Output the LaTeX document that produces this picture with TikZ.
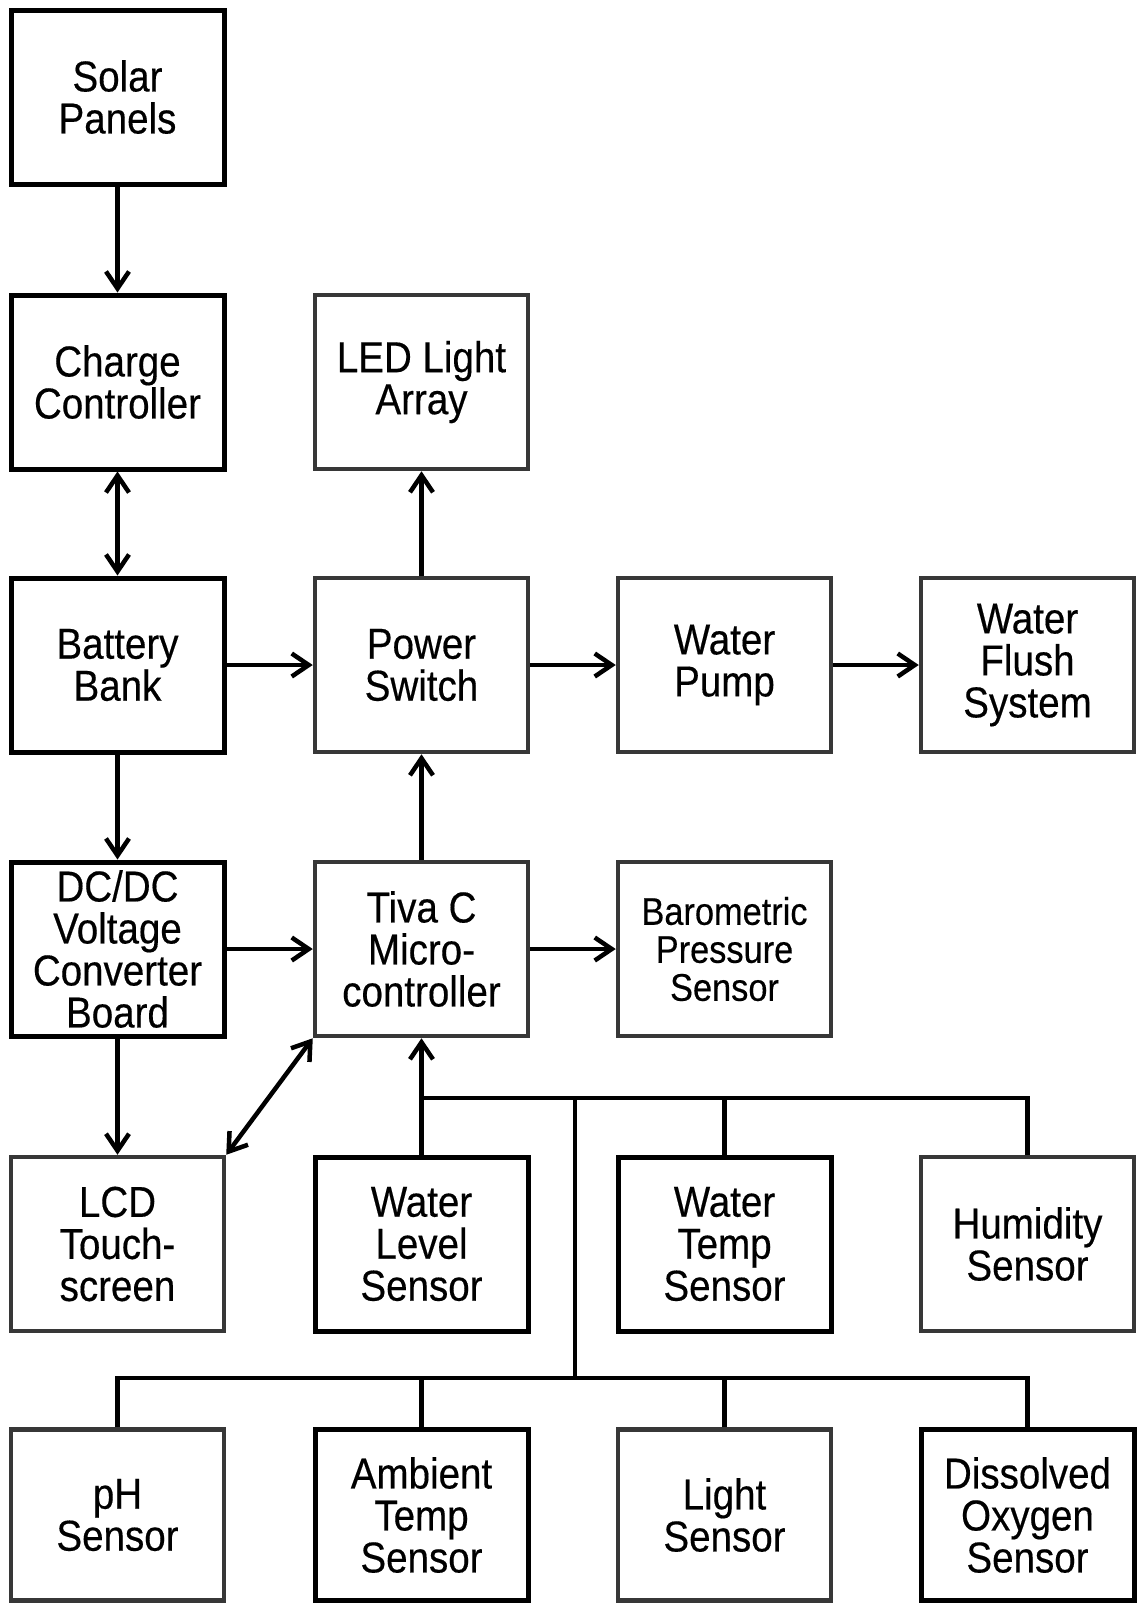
\documentclass[tikz,border=0pt]{standalone}
\usepackage{fontspec}
\setmainfont{Liberation Sans}[FakeStretch=0.89,FakeBold=0.35]
\usetikzlibrary{arrows.meta}
\definecolor{boxgrey}{RGB}{55,55,55}
\begin{document}
\begin{tikzpicture}[x=1pt,y=-1pt,
  box/.style={draw, fill=white, minimum width=213pt, minimum height=174pt, inner sep=0pt, align=center, font=\fontsize{43.3}{42}\selectfont},
  blk/.style={box, line width=5pt, draw=black},
  gry/.style={box, line width=4.5pt, draw=boxgrey},
  conn/.style={line width=4.5pt, draw=black},
  arr/.style={conn, -{Straight Barb[length=17pt,width=23pt]}},
  darr/.style={conn, {Straight Barb[length=17pt,width=23pt]}-{Straight Barb[length=17pt,width=23pt]}}]
\useasboundingbox[fill=white] (0,0) rectangle (1139,1604);
% row 1
\node[blk] (solar) at (117.5,97) {Solar\\Panels};
% row 2
\node[blk] (charge) at (117.5,382) {Charge\\Controller};
\node[gry] (led) at (421.5,382) {LED Light\\Array};
% row 3
\node[blk] (batt) at (117.5,665) {Battery\\Bank};
\node[gry] (pwr) at (421.5,665) {Power\\Switch};
\node[gry] (pump) at (724.5,665) {Water\\Pump};
\node[gry] (flush) at (1027.5,665) {Water\\Flush\\System};
% row 4
\node[blk] (dcdc) at (117.5,949) {DC/DC\\Voltage\\Converter\\Board};
\node[gry] (tiva) at (421.5,949) {Tiva C\\Micro-\\controller};
\node[gry, font=\fontsize{38.6}{38}\selectfont] (baro) at (724.5,949) {Barometric\\Pressure\\Sensor};
% row 5
\node[gry] (lcd) at (117.5,1244) {LCD\\Touch-\\screen};
\node[blk] (wl) at (421.5,1244) {Water\\Level\\Sensor};
\node[blk] (wt) at (724.5,1244) {Water\\Temp\\Sensor};
\node[gry] (hum) at (1027.5,1244) {Humidity\\Sensor};
% row 6
\node[gry, minimum height=171pt] (ph) at (117.5,1515) {pH\\Sensor};
\node[blk, minimum height=171pt] (amb) at (421.5,1515) {Ambient\\Temp\\Sensor};
\node[gry, minimum height=171pt] (light) at (724.5,1515) {Light\\Sensor};
\node[blk, minimum height=171pt] (do) at (1027.5,1515) {Dissolved\\Oxygen\\Sensor};
% connectors
\draw[arr] (solar) -- (charge);
\draw[darr] (charge) -- (batt);
\draw[arr] (batt) -- (pwr);
\draw[arr] (pwr) -- (led);
\draw[arr] (pwr) -- (pump);
\draw[arr] (pump) -- (flush);
\draw[arr] (batt) -- (dcdc);
\draw[arr] (dcdc) -- (tiva);
\draw[arr] (tiva) -- (pwr);
\draw[arr] (tiva) -- (baro);
\draw[arr] (dcdc) -- (lcd);
\draw[darr] (lcd.north east) -- (tiva.south west);
\draw[arr] (wl) -- (tiva);
% sensor buses
\coordinate (j1) at (421.5,1098);
\coordinate (j2) at (575,1098);
\coordinate (j3) at (575,1378);
\draw[conn] (j1) -| (hum.north);
\draw[conn] (wt.north) -- (wt.north |- j1);
\draw[conn] (j2) -- (j3);
\draw[conn] (ph.north) |- (j3) -| (do.north);
\draw[conn] (amb.north) -- (amb.north |- j3);
\draw[conn] (light.north) -- (light.north |- j3);
\end{tikzpicture}
\end{document}
